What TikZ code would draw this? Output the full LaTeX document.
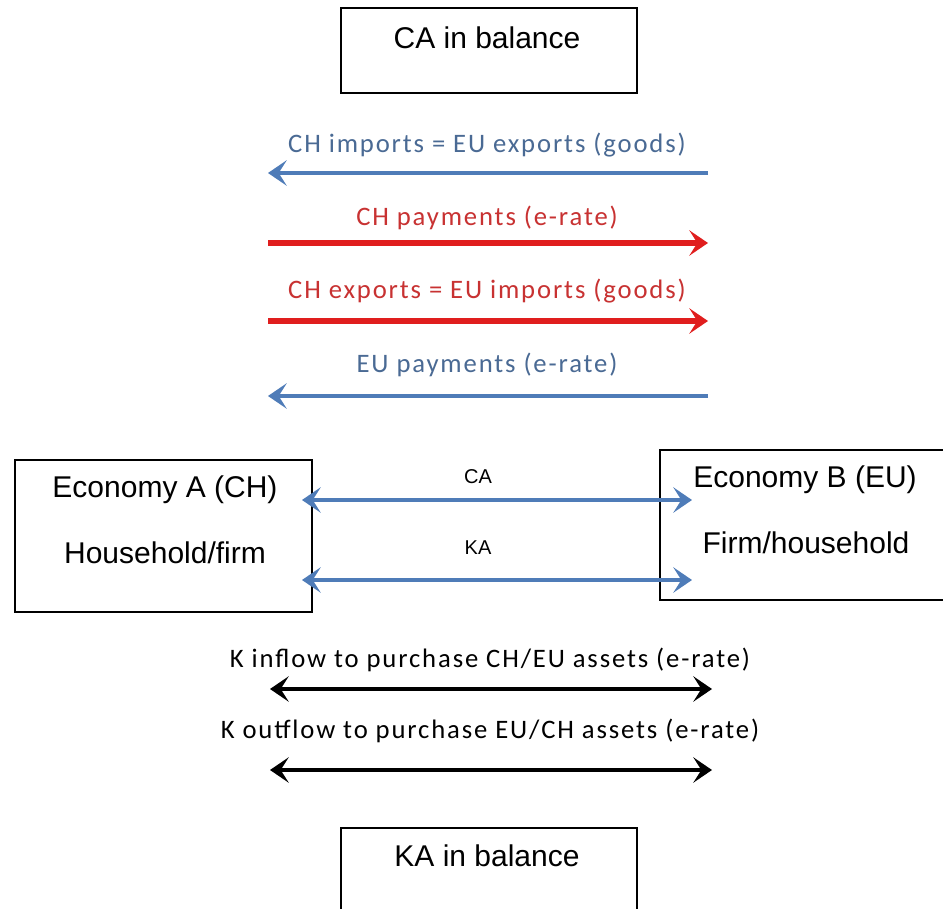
\documentclass[tikz,border=0pt]{standalone}
\usepackage{fontspec}
\setmainfont{Liberation Sans}
\newfontfamily\calib[LetterSpace=7]{Carlito}
\usetikzlibrary{arrows.meta}
\definecolor{ablue}{HTML}{4F7CB8}
\definecolor{tblue}{HTML}{4A6A94}
\definecolor{ared}{HTML}{E01E1E}
\definecolor{tred}{HTML}{C83232}
\begin{document}
\begin{tikzpicture}[x=0.75pt,y=-0.75pt,
  box/.style={draw=black,line width=2pt,inner sep=0pt,fill=white},
  boxtxt/.style={font=\fontsize{22.5}{26}\selectfont,inner sep=0pt},
  small/.style={font=\fontsize{15}{18}\selectfont,inner sep=0pt},
  lbl/.style={font=\calib\fontsize{20}{24}\selectfont,inner sep=0pt},
  tipa/.style={-{Stealth[length=14pt,width=19pt,inset=6pt]}},
  tipb/.style={{Stealth[length=14pt,width=19pt,inset=6pt]}-{Stealth[length=14pt,width=19pt,inset=6pt]}},
  bluearr/.style={tipa,draw=ablue,line width=2.3pt},
  redarr/.style={tipa,draw=ared,line width=4.2pt},
  blackarr/.style={tipb,draw=black,line width=3pt},
  dblblue/.style={tipb,draw=ablue,line width=3pt}]
\useasboundingbox (0,0) rectangle (943,909);
\fill[white] (0,0) rectangle (943,909);
\begin{scope}
\clip (0,0) rectangle (943,909);
% boxes
\node[box,minimum width=222pt,minimum height=63.75pt] (cabox) at (489,50.5) {};
\node[boxtxt] (catxt) at (487,38) {CA in balance};
\node[box,minimum width=222pt,minimum height=69pt] (kabox) at (489,874) {};
\node[boxtxt] (katxt) at (487,856) {KA in balance};
\node[box,minimum width=222.75pt,minimum height=114pt] (A) at (163.5,536) {};
\node[boxtxt] (A1) at (165,490) {Economy A (CH)};
\node[boxtxt] (A2) at (165,553) {Household/firm};
\node[box,minimum width=217.5pt,minimum height=112.5pt] (B) at (805,525) {};
\node[boxtxt] (B1) at (805,480) {Economy B (EU)};
\node[boxtxt] (B2) at (806,543) {Firm/household};
% current account flows
\coordinate (l1) at (268,173); \coordinate (r1) at (708,173);
\coordinate (l2) at (268,243); \coordinate (r2) at (708,243);
\coordinate (l3) at (268,321); \coordinate (r3) at (708,321);
\coordinate (l4) at (268,396); \coordinate (r4) at (708,396);
\node[lbl,text=tblue] (t1) at (487,145) {CH imports = EU exports (goods)};
\node[lbl,text=tred] (t2) at (487,218) {CH payments (e-rate)};
\node[lbl,text=tred] (t3) at (487,291) {CH exports = EU imports (goods)};
\node[lbl,text=tblue] (t4) at (487,365) {EU payments (e-rate)};
\draw[bluearr] (r1) -- (l1);
\draw[redarr] (l2) -- (r2);
\draw[redarr] (l3) -- (r3);
\draw[bluearr] (r4) -- (l4);
% CA / KA
\coordinate (caL) at (302,500); \coordinate (caR) at (692,500);
\coordinate (kaL) at (302,580); \coordinate (kaR) at (692,580);
\node[small] (ca) at (478,477) {CA};
\node[small] (ka) at (478,548) {KA};
\draw[dblblue] (caL) -- (caR);
\draw[dblblue] (kaL) -- (kaR);
% capital flows
\coordinate (k1l) at (270,689); \coordinate (k1r) at (712,689);
\coordinate (k2l) at (270,770); \coordinate (k2r) at (712,770);
\node[lbl] (kt1) at (490,660) {K inflow to purchase CH/EU assets (e-rate)};
\node[lbl] (kt2) at (490,731) {K outflow to purchase EU/CH assets (e-rate)};
\draw[blackarr] (k1l) -- (k1r);
\draw[blackarr] (k2l) -- (k2r);
\end{scope}
\end{tikzpicture}
\end{document}
